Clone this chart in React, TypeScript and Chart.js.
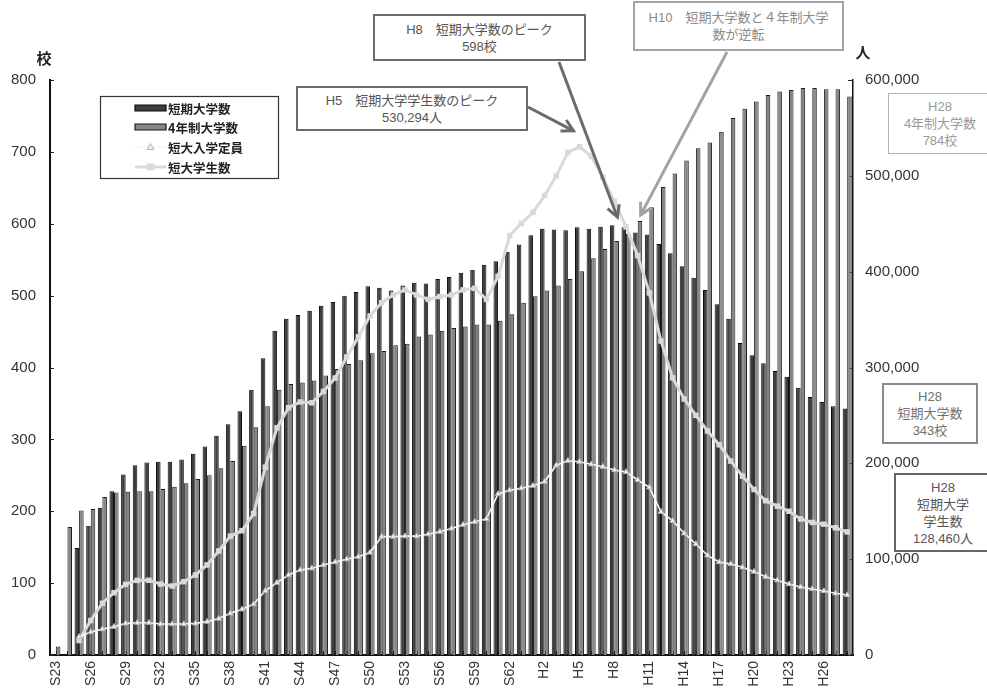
import React, { useEffect, useRef } from 'react';
import { Chart, registerables } from 'chart.js';

Chart.register(...registerables);

const categories = [
  'S23', 'S24', 'S25', 'S26', 'S27', 'S28', 'S29', 'S30', 'S31', 'S32',
  'S33', 'S34', 'S35', 'S36', 'S37', 'S38', 'S39', 'S40', 'S41', 'S42',
  'S43', 'S44', 'S45', 'S46', 'S47', 'S48', 'S49', 'S50', 'S51', 'S52',
  'S53', 'S54', 'S55', 'S56', 'S57', 'S58', 'S59', 'S60', 'S61', 'S62',
  'S63', 'H1', 'H2', 'H3', 'H4', 'H5', 'H6', 'H7', 'H8', 'H9',
  'H10', 'H11', 'H12', 'H13', 'H14', 'H15', 'H16', 'H17', 'H18', 'H19',
  'H20', 'H21', 'H22', 'H23', 'H24', 'H25', 'H26', 'H27', 'H28',
];

// 短期大学数 (校)
const juniorCollegeCounts = [
  null, null, 149, 180, 205, 228, 251, 264, 268, 269,
  269, 272, 280, 290, 305, 321, 339, 369, 413, 451,
  468, 473, 479, 486, 491, 500, 505, 513, 511, 507,
  514, 518, 517, 523, 526, 532, 536, 543, 548, 561,
  571, 584, 593, 592, 591, 595, 593, 596, 598, 595,
  588, 585, 572, 559, 541, 525, 508, 488, 468, 434,
  417, 406, 395, 387, 372, 359, 352, 346, 343,
];

// 4年制大学数 (校)
const universityCounts = [
  12, 178, 201, 203, 220, 226, 227, 228, 228, 231,
  234, 239, 245, 250, 260, 270, 291, 317, 346, 369,
  377, 379, 382, 389, 398, 405, 410, 420, 423, 431,
  433, 443, 446, 451, 455, 457, 460, 460, 465, 474,
  490, 499, 507, 514, 523, 534, 552, 565, 576, 586,
  604, 623, 651, 670, 688, 705, 713, 728, 747, 760,
  770, 779, 784, 786, 789, 789, 787, 787, 777,
];

// 短大入学定員 (人)
const enrollmentCapacity = [
  null, null, 19000, 24000, 27000, 29500, 33000, 33700, 33700, 32300,
  32300, 32300, 33000, 34800, 38000, 43500, 47700, 53000, 67000, 75500,
  83500, 88700, 90500, 94000, 97000, 100000, 102600, 107000, 123500, 123500,
  124000, 124000, 126000, 128700, 132000, 136000, 139000, 142000, 168000, 172000,
  174000, 176700, 181000, 198000, 202700, 201700, 199000, 196500, 193000, 191000,
  182600, 175000, 149500, 140000, 127000, 115800, 104000, 97000, 95000, 91500,
  87000, 81700, 78000, 74000, 71000, 68900, 66800, 64400, 62600,
];

// 短大学生数 (人)
const studentCounts = [
  null, null, 15098, 36000, 54000, 65000, 73700, 77900, 78000, 74000,
  72000, 76500, 83500, 94000, 108500, 124000, 129700, 147600, 196000, 237000,
  258000, 264000, 263200, 275000, 289000, 311000, 332000, 353800, 367600, 375700,
  381000, 375700, 371100, 374000, 375700, 381000, 382600, 371100, 395000, 437700,
  450400, 461800, 479400, 500000, 524500, 530294, 520600, 498500, 473300, 446800,
  416800, 377900, 327700, 289200, 267100, 250100, 233800, 219400, 202300, 186700,
  172700, 161000, 155300, 150000, 142000, 138300, 136500, 132700, 128460,
];

const seriesNames = ['短期大学数', '4年制大学数', '短大入学定員', '短大学生数'];

const FONT = "'Liberation Sans', 'Noto Sans CJK JP', sans-serif";
const CJK = "'Noto Sans CJK JP', 'Liberation Sans', sans-serif";

function drawArrow(ctx: CanvasRenderingContext2D, x1: number, y1: number, x2: number, y2: number, color: string) {
  ctx.save();
  ctx.strokeStyle = color;
  ctx.lineWidth = 3;
  ctx.lineCap = 'butt';
  ctx.lineJoin = 'miter';
  ctx.beginPath();
  ctx.moveTo(x1, y1);
  ctx.lineTo(x2, y2);
  ctx.stroke();
  const a = Math.atan2(y2 - y1, x2 - x1);
  const L = 13;
  const w = 0.5;
  ctx.beginPath();
  ctx.moveTo(x2 - L * Math.cos(a - w), y2 - L * Math.sin(a - w));
  ctx.lineTo(x2, y2);
  ctx.lineTo(x2 - L * Math.cos(a + w), y2 - L * Math.sin(a + w));
  ctx.stroke();
  ctx.restore();
}

const overlayPlugin = {
  id: 'overlay',
  beforeDatasetsDraw(chart: any) {
    const { ctx, chartArea, scales } = chart;
    ctx.save();
    ctx.strokeStyle = '#222';
    ctx.lineWidth = 1;
    const ys = scales.y;
    ys.ticks.forEach((_: any, i: number) => {
      const y = Math.round(ys.getPixelForTick(i)) + 0.5;
      ctx.beginPath();
      ctx.moveTo(chartArea.left, y);
      ctx.lineTo(chartArea.left + 4, y);
      ctx.stroke();
    });
    const y1 = scales.y1;
    y1.ticks.forEach((_: any, i: number) => {
      const y = Math.round(y1.getPixelForTick(i)) + 0.5;
      ctx.beginPath();
      ctx.moveTo(chartArea.right - 5, y);
      ctx.lineTo(chartArea.right, y);
      ctx.stroke();
    });
    const xs = scales.x;
    categories.forEach((_, i) => {
      const x = Math.round(xs.getPixelForValue(i)) + 0.5;
      ctx.beginPath();
      ctx.moveTo(x, chartArea.bottom);
      ctx.lineTo(x, chartArea.bottom - 4);
      ctx.stroke();
    });
    ctx.restore();
  },
  afterDraw(chart: any) {
    const { ctx, scales } = chart;
    const ds = chart.data.datasets;
    ctx.save();

    // unit labels
    ctx.fillStyle = '#222';
    ctx.font = `bold 15px ${CJK}`;
    ctx.textAlign = 'center';
    ctx.textBaseline = 'middle';
    ctx.fillText('校', 44, 58);
    ctx.fillText('人', 863, 52);

    // legend
    const lx = 100, ly = 96, lw = 178, lh = 82;
    ctx.fillStyle = '#fff';
    ctx.fillRect(lx, ly, lw, lh);
    ctx.strokeStyle = '#333';
    ctx.lineWidth = 1.2;
    ctx.strokeRect(lx + 0.5, ly + 0.5, lw, lh);
    const rows = [108, 127, 147, 167];
    const sx1 = 135, sx2 = 166;
    [0, 1].forEach((k) => {
      const y = rows[k];
      ctx.fillStyle = ds[k].backgroundColor;
      ctx.strokeStyle = ds[k].borderColor;
      ctx.lineWidth = 1.2;
      ctx.beginPath();
      ctx.rect(sx1, y - 3, sx2 - sx1, 6);
      ctx.fill();
      ctx.stroke();
    });
    [2, 3].forEach((k) => {
      const y = rows[k];
      ctx.strokeStyle = ds[k].borderColor;
      ctx.lineWidth = ds[k].borderWidth;
      ctx.beginPath();
      ctx.moveTo(sx1, y);
      ctx.lineTo(sx2, y);
      ctx.stroke();
      ctx.fillStyle = ds[k].pointBackgroundColor;
      ctx.strokeStyle = ds[k].pointBorderColor;
      ctx.lineWidth = 1;
      const cx = (sx1 + sx2) / 2;
      if (k === 2) {
        ctx.beginPath();
        ctx.moveTo(cx, y - 3.5);
        ctx.lineTo(cx + 3.5, y + 2.5);
        ctx.lineTo(cx - 3.5, y + 2.5);
        ctx.closePath();
        ctx.fill();
        ctx.stroke();
      } else {
        ctx.fillRect(cx - 3.5, y - 3.5, 7, 7);
      }
    });
    ctx.fillStyle = '#222';
    ctx.font = `bold 12.5px ${CJK}`;
    ctx.textAlign = 'left';
    ctx.textBaseline = 'middle';
    seriesNames.forEach((n, k) => ctx.fillText(n, 168, rows[k] + 1));

    // arrows anchored to the data they point at
    const xs = scales.x, yl = scales.y, yr = scales.y1;
    const peakIdx = 45;
    const t1x = xs.getPixelForValue(peakIdx) - 6;
    const t1y = yr.getPixelForValue(studentCounts[peakIdx]) - 16;
    drawArrow(ctx, 528, 107, t1x, t1y, '#6b6b6b');
    const jcPeak = 48;
    const t2x = xs.getPixelForValue(jcPeak) + 3;
    const t2y = yl.getPixelForValue(juniorCollegeCounts[jcPeak]) - 8;
    drawArrow(ctx, 559, 62, t2x, t2y, '#6b6b6b');
    const cross = 50;
    const t3x = xs.getPixelForValue(cross) + 3;
    const t3y = yl.getPixelForValue(universityCounts[cross]) - 6;
    drawArrow(ctx, 727, 52, t3x, t3y, '#a3a3a3');

    ctx.restore();
  },
};

type BoxProps = {
  left: number; top: number; width: number; height: number;
  border: string; color: string; lines: string[]; lineHeight?: number;
};

function NoteBox({ left, top, width, height, border, color, lines, lineHeight = 17 }: BoxProps) {
  return (
    <div
      style={{
        position: 'absolute',
        left,
        top,
        width,
        height,
        boxSizing: 'border-box',
        border,
        background: '#fff',
        color,
        fontFamily: FONT,
        fontSize: 13,
        lineHeight: `${lineHeight}px`,
        textAlign: 'center',
        display: 'flex',
        flexDirection: 'column',
        justifyContent: 'center',
        whiteSpace: 'pre',
      }}
    >
      {lines.map((l, i) => (
        <div key={i}>{l}</div>
      ))}
    </div>
  );
}

export default function App() {
  const canvasRef = useRef<HTMLCanvasElement | null>(null);

  useEffect(() => {
    const canvas = canvasRef.current;
    if (!canvas) return;
    const chart = new Chart(canvas, {
      type: 'bar',
      data: {
        labels: categories,
        datasets: [
          {
            type: 'bar',
            label: seriesNames[0],
            data: juniorCollegeCounts,
            yAxisID: 'y',
            backgroundColor: '#3d3d3d',
            borderColor: '#0d0d0d',
            borderWidth: 1,
            categoryPercentage: 0.78,
            barPercentage: 1.0,
            order: 3,
          },
          {
            type: 'bar',
            label: seriesNames[1],
            data: universityCounts,
            yAxisID: 'y',
            backgroundColor: '#858585',
            borderColor: '#1c1c1c',
            borderWidth: 1,
            categoryPercentage: 0.78,
            barPercentage: 1.0,
            order: 3,
          },
          {
            type: 'line',
            label: seriesNames[2],
            data: enrollmentCapacity,
            yAxisID: 'y1',
            borderColor: '#f7f7f7',
            borderWidth: 1.6,
            pointStyle: 'triangle',
            pointRadius: 3.2,
            pointBackgroundColor: '#f2f2f2',
            pointBorderColor: '#b5b5b5',
            pointBorderWidth: 1,
            tension: 0,
            order: 0,
          },
          {
            type: 'line',
            label: seriesNames[3],
            data: studentCounts,
            yAxisID: 'y1',
            borderColor: '#d9d9d9',
            borderWidth: 3,
            pointStyle: 'rect',
            pointRadius: 3.9,
            pointBackgroundColor: '#d9d9d9',
            pointBorderColor: '#d9d9d9',
            pointBorderWidth: 0,
            tension: 0,
            order: 1,
          },
        ],
      },
      options: {
        animation: false,
        responsive: false,
        devicePixelRatio: 1,
        layout: { padding: { top: 80, left: 0, right: 0, bottom: 0 } },
        plugins: {
          legend: { display: false },
          tooltip: { enabled: false },
        },
        scales: {
          x: {
            type: 'category',
            offset: true,
            z: 1,
            grid: { display: false, drawTicks: false },
            border: { display: true, color: '#111', width: 2 },
            ticks: {
              autoSkip: false,
              minRotation: 90,
              maxRotation: 90,
              padding: 6,
              color: '#333',
              font: { family: FONT, size: 14 },
              callback: (_v: any, i: number) => (i % 3 === 0 ? categories[i] : ''),
            },
            afterFit: (s: any) => {
              s.height = 34;
            },
          },
          y: {
            position: 'left',
            min: 0,
            max: 800,
            grid: { display: false, drawTicks: false },
            border: { display: true, color: '#111', width: 2 },
            ticks: {
              stepSize: 100,
              padding: 14,
              color: '#333',
              font: { family: FONT, size: 15 },
            },
            afterFit: (s: any) => {
              s.width = 50;
            },
          },
          y1: {
            position: 'right',
            min: 0,
            max: 600000,
            grid: { display: false, drawTicks: false },
            border: { display: true, color: '#111', width: 1.5 },
            ticks: {
              stepSize: 100000,
              padding: 12,
              color: '#333',
              font: { family: FONT, size: 15 },
              callback: (v: any) => Number(v).toLocaleString('en-US'),
            },
            afterFit: (s: any) => {
              s.width = 134;
            },
          },
        },
      },
      plugins: [overlayPlugin],
    } as any);
    return () => chart.destroy();
  }, []);

  return (
    <div style={{ position: 'fixed', left: 0, top: 0, width: 987, height: 689, background: '#fff', overflow: 'hidden' }}>
      <canvas ref={canvasRef} width={987} height={689} style={{ position: 'absolute', left: 0, top: 0 }} />
      <NoteBox left={296} top={86} width={232} height={45} border="2.5px solid #6b6b6b" color="#555"
        lines={['H5　短期大学学生数のピーク', '530,294人']} />
      <NoteBox left={373} top={14} width={213} height={47} border="2.5px solid #6b6b6b" color="#555"
        lines={['H8　短期大学数のピーク', '598校']} />
      <NoteBox left={633} top={1} width={211} height={50} border="2.5px solid #a3a3a3" color="#8a8a8a"
        lines={['H10　短期大学数と４年制大学', '数が逆転']} />
      <NoteBox left={888} top={93} width={104} height={61} border="1.5px solid #b3b3b3" color="#999"
        lines={['H28', '4年制大学数', '784校']} />
      <NoteBox left={882} top={383} width={96} height={61} border="2px solid #8a8a8a" color="#707070"
        lines={['H28', '短期大学数', '343校']} />
      <NoteBox left={894} top={473} width={98} height={79} border="2px solid #666" color="#555"
        lines={['H28', '短期大学', '学生数', '128,460人']} />
    </div>
  );
}
